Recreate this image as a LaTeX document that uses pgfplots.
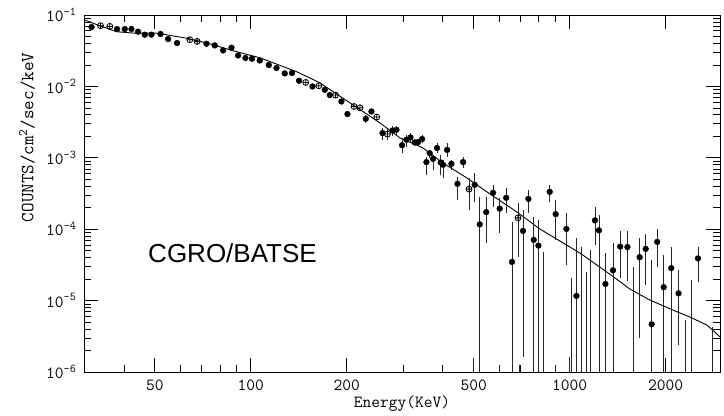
\documentclass[border=0pt]{standalone}
\usepackage{fontspec}
\usepackage{pgfplots}
\pgfplotsset{compat=1.18}
\newfontfamily\arialfont{Liberation Sans}
\begin{document}
\begin{tikzpicture}
\begin{axis}[
  xmode=log, ymode=log,
  scale only axis, width=636pt, height=357pt,
  xmin=30, xmax=2960, ymin=1e-6, ymax=1e-1,
  xtick={50,100,200,500,1000,2000},
  xticklabels={50,100,200,500,1000,2000},
  minor xtick={40,60,70,80,90,300,400,600,700,800,900},
  ytick={1e-6,1e-5,1e-4,1e-3,1e-2,1e-1},
  yticklabels={10\textsuperscript{-6},10\textsuperscript{-5},10\textsuperscript{-4},10\textsuperscript{-3},10\textsuperscript{-2},10\textsuperscript{-1}},
  minor ytick={2e-6,3e-6,4e-6,5e-6,6e-6,7e-6,8e-6,9e-6,
               2e-5,3e-5,4e-5,5e-5,6e-5,7e-5,8e-5,9e-5,
               2e-4,3e-4,4e-4,5e-4,6e-4,7e-4,8e-4,9e-4,
               2e-3,3e-3,4e-3,5e-3,6e-3,7e-3,8e-3,9e-3,
               2e-2,3e-2,4e-2,5e-2,6e-2,7e-2,8e-2,9e-2},
  major tick length=14pt, minor tick length=7pt,
  tick style={black, line width=0.7pt},
  axis line style={black, line width=0.8pt},
  tick label style={font=\ttfamily\fontsize{17}{17}\selectfont},
  yticklabel style={xshift=-4pt},
  xticklabel style={yshift=-4pt},
  xlabel={Energy(KeV)},
  ylabel={COUNTS/cm\textsuperscript{2}/sec/keV},
  xlabel style={font=\ttfamily\fontsize{17}{17}\selectfont, at={(axis description cs:0.5,-0.0896)}, anchor=center},
  ylabel style={font=\ttfamily\fontsize{18.5}{18.5}\selectfont, at={(axis description cs:-0.0896,0.657)}, anchor=center},
]
% model curve
\addplot[black, line width=0.9pt] coordinates {
(30,0.0859) (33.6,0.0708) (38.0,0.0583) (43.3,0.0556) (50.7,0.0556) (63.0,0.0473)
(74.4,0.0396) (87.8,0.0316) (106.7,0.0252) (139.4,0.01604) (164.6,0.01125)
(200.0,0.00629) (253.8,0.00309) (293.2,0.001906) (346.1,0.00138) (399.9,8.50e-4)
(475.4,5.24e-4) (561.3,3.13e-4) (682.2,1.749e-4) (805.4,1.01e-4) (930.3,6.86e-5)
(1075,4.66e-5) (1367,2.18e-5) (1542,1.457e-5) (1781,1.022e-5) (2103,7.40e-6)
(2378,5.90e-6) (2689,4.56e-6) (2848,3.64e-6) (2960,3.09e-6)
};
% error bars
\addplot[black!85, line width=0.85pt, unbounded coords=jump] coordinates {
(229.4,3.09e-3) (229.4,4.00e-3) (229.4,nan)
(258.8,1.786e-3) (258.8,2.633e-3) (258.8,nan)
(268.3,1.786e-3) (268.3,2.548e-3) (268.3,nan)
(278.2,2.033e-3) (278.2,2.807e-3) (278.2,nan)
(286.3,2.099e-3) (286.3,2.807e-3) (286.3,nan)
(298.1,1.174e-3) (298.1,1.906e-3) (298.1,nan)
(307.7,1.425e-3) (307.7,2.099e-3) (307.7,nan)
(316.7,1.675e-3) (316.7,2.239e-3) (316.7,nan)
(326.7,1.472e-3) (326.7,1.845e-3) (326.7,nan)
(334.6,1.472e-3) (334.6,1.845e-3) (334.6,nan)
(344.4,1.622e-3) (344.4,2.099e-3) (344.4,nan)
(355.5,5.77e-4) (355.5,1.042e-3) (355.5,nan)
(364.0,9.99e-4) (364.0,1.294e-3) (364.0,nan)
(372.8,6.78e-4) (372.8,1.101e-3) (372.8,nan)
(383.7,1.174e-3) (383.7,1.622e-3) (383.7,nan)
(394.1,5.77e-4) (394.1,1.101e-3) (394.1,nan)
(400.7,5.24e-4) (400.7,9.37e-4) (400.7,nan)
(412.5,1.032e-3) (412.5,1.622e-3) (412.5,nan)
(425.8,6.78e-4) (425.8,9.37e-4) (425.8,nan)
(444.6,2.58e-4) (444.6,5.41e-4) (444.6,nan)
(463.0,7.24e-4) (463.0,1.032e-3) (463.0,nan)
(483.5,1.866e-4) (483.5,5.24e-4) (483.5,nan)
(503.7,2.415e-4) (503.7,6.16e-4) (503.7,nan)
(522.3,1e-6) (522.3,2.84e-4) (522.3,nan)
(547.3,6.43e-5) (547.3,2.84e-4) (547.3,nan)
(574.9,2.055e-4) (574.9,4.18e-4) (574.9,nan)
(603.3,8.88e-5) (603.3,2.75e-4) (603.3,nan)
(632.2,1.693e-4) (632.2,3.79e-4) (632.2,nan)
(659.3,1e-6) (659.3,1.267e-4) (659.3,nan)
(688.5,4.09e-5) (688.5,2.34e-4) (688.5,nan)
(713.9,1.623e-6) (713.9,1.866e-4) (713.9,nan)
(742.2,1.693e-4) (742.2,3.56e-4) (742.2,nan)
(771.2,1e-6) (771.2,1.488e-4) (771.2,nan)
(797.8,1e-6) (797.8,1.351e-4) (797.8,nan)
(865.6,2.415e-4) (865.6,4.18e-4) (865.6,nan)
(903.8,7.08e-5) (903.8,2.58e-4) (903.8,nan)
(976.6,3.16e-5) (976.6,1.693e-4) (976.6,nan)
(1050,1e-6) (1050,7.56e-5) (1050,nan)
(1200,6.03e-5) (1200,2.055e-4) (1200,nan)
(1235,1e-6) (1235,1.587e-4) (1235,nan)
(1294,1e-6) (1294,4.66e-5) (1294,nan)
(1367,1e-6) (1367,6.43e-5) (1367,nan)
(1440,2.08e-5) (1440,9.47e-5) (1440,nan)
(1517,1.886e-5) (1517,9.47e-5) (1517,nan)
(1657,3.00e-6) (1657,7.56e-5) (1657,nan)
(1731,1.657e-5) (1731,8.60e-5) (1731,nan)
(1807,1e-6) (1807,3.72e-5) (1807,nan)
(1881,2.96e-5) (1881,1.01e-4) (1881,nan)
(1971,1e-6) (1971,4.37e-5) (1971,nan)
(2081,1e-6) (2081,5.65e-5) (2081,nan)
(2194,2.39e-6) (2194,2.69e-5) (2194,nan)
(2525,1.826e-5) (2525,5.65e-5) (2525,nan)
(497.6,1e-6) (497.6,1.571e-6) (497.6,nan)
(600.2,1e-6) (600.2,1.253e-6) (600.2,nan)
(697.1,1e-6) (697.1,1.253e-6) (697.1,nan)
(828.9,1e-6) (828.9,4.86e-5) (828.9,nan)
(899.2,1e-6) (899.2,1.253e-6) (899.2,nan)
(995,1e-6) (995,1.639e-6) (995,nan)
(1012,1e-6) (1012,2.08e-5) (1012,nan)
(1088,1e-6) (1088,5.65e-5) (1088,nan)
(1131,1e-6) (1131,2.55e-5) (1131,nan)
(1164,1e-6) (1164,5.13e-5) (1164,nan)
(1587,1e-6) (1587,2.99e-5) (1587,nan)
(2302,1e-6) (2302,5.36e-6) (2302,nan)
(2413,1e-6) (2413,1.949e-5) (2413,nan)
(2801,1e-6) (2801,4.32e-6)
};
% filled points
\addplot[only marks, mark=*, mark size=2.9pt, black] coordinates {
(31.67,0.0679) (38.09,0.0636) (40.27,0.0636) (42.27,0.0636) (44.33,0.0583)
(46.53,0.0530) (48.83,0.0530) (52.12,0.0542) (55.06,0.0461) (58.75,0.0405)
(72.62,0.0396) (77.1,0.0375) (81.88,0.0319) (87.0,0.0348) (91.25,0.0271)
(96.2,0.0250) (100.9,0.0244) (106.7,0.0231) (113.9,0.0199) (120.4,0.0181)
(127.8,0.0152) (134.7,0.0154) (141.7,0.0120) (156.1,0.00998) (170.6,0.00897)
(176.9,0.00756) (192.5,0.00615) (201.0,0.00410) (229.4,0.00352) (239.0,0.00445)
(258.8,0.00222) (278.2,0.00241) (286.3,0.00247) (298.1,0.00150) (307.7,0.00179)
(316.7,0.00193) (326.7,0.00164) (334.6,0.00166) (344.4,0.00183) (355.5,8.70e-4)
(364.0,0.00116) (372.8,9.67e-4) (383.7,0.00137) (394.1,8.58e-4) (400.7,7.97e-4)
(412.5,0.00129) (425.8,8.23e-4) (444.6,4.32e-4) (463.0,8.70e-4) (503.7,4.18e-4)
(522.3,1.168e-4) (547.3,1.732e-4) (574.9,3.23e-4) (603.3,1.945e-4) (632.2,2.75e-4)
(659.3,3.48e-5) (713.9,9.47e-5) (742.2,2.66e-4) (771.2,7.08e-5) (797.8,5.89e-5)
(865.6,3.34e-4) (903.8,1.623e-4) (976.6,1.01e-4) (1050,1.162e-5) (1200,1.329e-4)
(1235,9.63e-5) (1294,1.712e-5) (1367,2.66e-5) (1440,5.71e-5) (1517,5.62e-5)
(1657,4.05e-5) (1731,5.30e-5) (1807,4.66e-6) (1881,6.64e-5) (1971,1.54e-5)
(2081,2.85e-5) (2194,1.264e-5) (2525,3.90e-5)
};
% crossed open points
\addplot[only marks, mark=oplus, mark size=3pt, black, line width=0.8pt] coordinates {
(33.80,0.0708) (36.14,0.0692) (64.4,0.0451) (67.88,0.0427) (148.7,0.01136)
(163.4,0.0102) (184.3,0.00756) (210.8,0.00523) (220.1,0.00502) (248.3,0.00372)
(268.3,0.00215) (483.5,3.64e-4) (688.5,1.441e-4)
};
\node[font=\arialfont\fontsize{26}{26}\selectfont, inner sep=0pt, anchor=center] at (axis description cs:0.2335,0.3333) {CGRO/BATSE};
\coordinate (bl) at (rel axis cs:0,0);
\end{axis}
\path (bl) ++(-84pt,-40pt) rectangle ++(724pt,412pt);
\end{tikzpicture}
\end{document}
